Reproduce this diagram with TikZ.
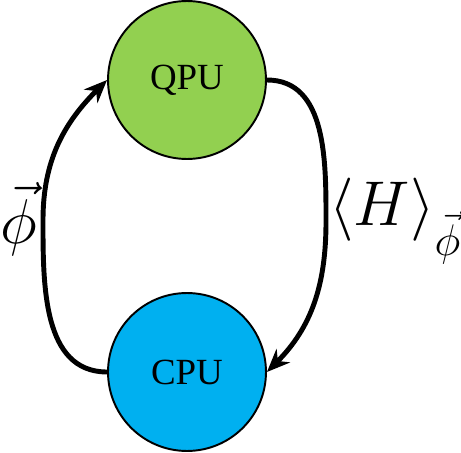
\RequirePackage{fix-cm}
\documentclass[tikz,border=0pt]{standalone}
\usepackage{amsmath,amssymb}
\usepackage{fontspec}
\setmainfont{Liberation Serif}
\usepackage{xcolor}
\usepackage{tikz}
\usetikzlibrary{arrows.meta,positioning}
\definecolor{qpugreen}{HTML}{92D050}
\definecolor{cpublue}{HTML}{00B0F0}

\begin{document}
\begin{tikzpicture}[
    x=0.02cm, y=0.02cm,
    unit/.style={circle, draw=black, line width=1.1pt, minimum size=3.16cm, inner sep=0pt, text centered, font=\fontsize{21}{24}\selectfont},
    flow/.style={-{Stealth[length=4.6mm, width=3.8mm, inset=1.5mm]}, line width=2.8pt},
    mathlabel/.style={inner sep=0pt, font=\fontsize{36}{40}\selectfont},
]
\useasboundingbox (0,0) rectangle (461,-453);

\node[unit, fill=qpugreen] (qpu) at (187,-80) {QPU};
\node[unit, fill=cpublue] (cpu) at (187,-372) {CPU};

\coordinate (lbend) at (43,-220);
\coordinate (rbend) at (326,-222);

\draw[flow] (cpu.west) to[out=180, in=-90] (lbend) to[out=90, in=225] (qpu.west);
\draw[flow] (qpu.east) to[out=0, in=90] (rbend) to[out=-90, in=45] (cpu.east);

\node[mathlabel] (phi) at (19,-219) {$\vec{\phi}$};
\node[mathlabel, anchor=west] (energy) at (329,-221) {$\left\langle H\right\rangle_{\raisebox{-7pt}{$\scriptstyle\vec{\phi}$}}$};
\end{tikzpicture}
\end{document}
